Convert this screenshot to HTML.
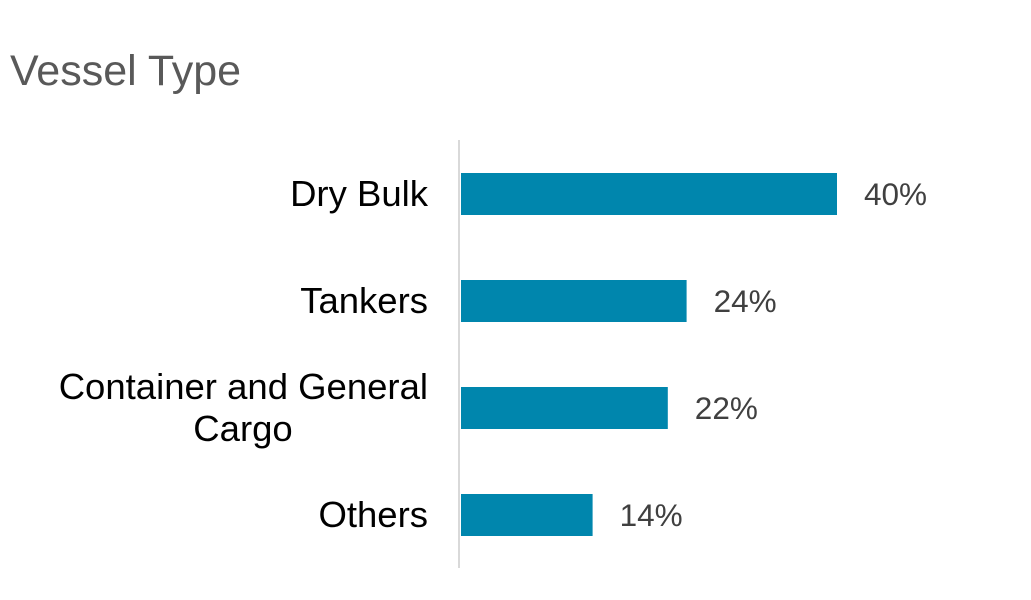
<!DOCTYPE html>
<html><head><meta charset="utf-8"><style>
body{margin:0;background:#fff;}
svg{display:block;font-family:"Liberation Sans",Arial,sans-serif;}
</style></head><body>
<svg width="1031" height="600" viewBox="0 0 1031 600">
<text x="10" y="85" font-size="43" fill="#595959">Vessel Type</text>
<line x1="459" y1="140" x2="459" y2="568" stroke="#d9d9d9" stroke-width="2"/>
<g id="bars"></g>
</svg>
<script>
const categories=[["Dry Bulk"],["Tankers"],["Container and General","Cargo"],["Others"]];
const values=[40,24,22,14];
const valueLabels=["40%","24%","22%","14%"];
const g=document.getElementById('bars');
const NS="http://www.w3.org/2000/svg";
const x0=461, pxPer=9.4;
function xScale(v){return x0+v*pxPer;}
function yScale(i){return 173+i*107;}
const bh=42;
values.forEach((v,i)=>{
  const y=yScale(i);
  const r=document.createElementNS(NS,'rect');
  r.setAttribute('x',x0);r.setAttribute('y',y);
  r.setAttribute('width',xScale(v)-x0);r.setAttribute('height',bh);
  r.setAttribute('fill','#0086ad');
  
  
  g.appendChild(r);
  const t=document.createElementNS(NS,'text');
  t.setAttribute('x',xScale(v)+27);t.setAttribute('y',y+bh/2+11);
  t.setAttribute('font-size','31.5');t.setAttribute('fill','#404040');
  t.textContent=valueLabels[i];
  
  
  g.appendChild(t);
  const lines=categories[i];
  const c=document.createElementNS(NS,'text');
  c.setAttribute('font-size','36.5');c.setAttribute('fill','#000');
  
  
  const startY= lines.length===1 ? y+bh/2+12 : y+bh/2+12-21;
  lines.forEach((ln,j)=>{
    const ts=document.createElementNS(NS,'tspan');
    if(j===0){ts.setAttribute('x',428);ts.setAttribute('text-anchor','end');}
    else{ts.setAttribute('x',243);ts.setAttribute('text-anchor','middle');}
    ts.setAttribute('y',startY+j*42);
    ts.textContent=ln;
    c.appendChild(ts);
  });
  g.appendChild(c);
});
</script>
</body></html>
